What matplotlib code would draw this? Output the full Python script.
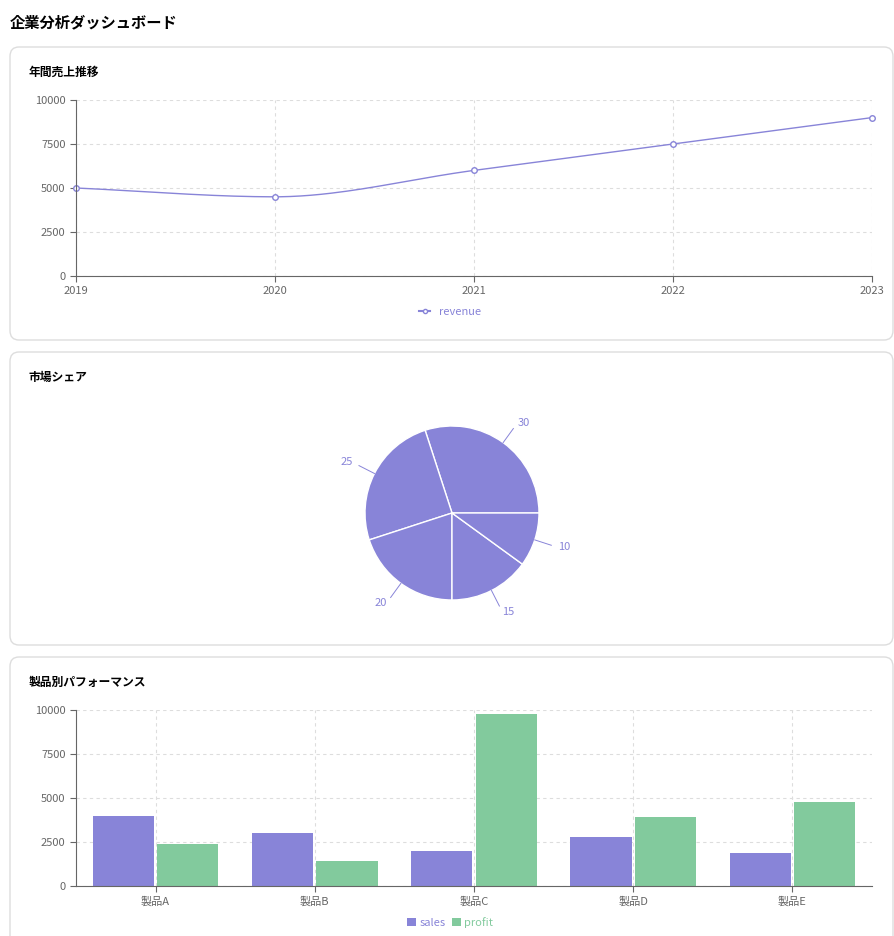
import numpy as np
import matplotlib.pyplot as plt
from matplotlib.patches import FancyBboxPatch

plt.rcParams['font.family'] = ['Noto Sans CJK JP', 'DejaVu Sans']

years = [2019, 2020, 2021, 2022, 2023]
revenue = [5000, 4500, 6000, 7500, 9000]
share_values = [30, 25, 20, 15, 10]
products = ['製品A', '製品B', '製品C', '製品D', '製品E']
sales = [4000, 3000, 2000, 2780, 1890]
profit = [2400, 1398, 9800, 3908, 4800]

PURPLE = '#8884d8'
GREEN = '#82ca9d'
GREY = '#666666'
W, H = 894, 936

fig = plt.figure(figsize=(W / 100, H / 100), dpi=100)
fig.patch.set_facecolor('white')


def ax_px(l, t, r, b):
    return fig.add_axes([l / W, 1 - b / H, (r - l) / W, (b - t) / H])


def card(t, b, title):
    p = FancyBboxPatch((10 / W, 1 - b / H), 883 / W, (b - t) / H,
                       boxstyle='round,pad=0,rounding_size=0.01',
                       transform=fig.transFigure, facecolor='white',
                       edgecolor='#dddddd', linewidth=1, zorder=-5)
    fig.patches.append(p)
    fig.text(29 / W, 1 - (t + 25) / H, title, fontsize=8.5, weight='bold',
             va='center', ha='left')


def style_axes(ax):
    for s in ['top', 'right']:
        ax.spines[s].set_visible(False)
    for s in ['left', 'bottom']:
        ax.spines[s].set_color(GREY)
    ax.tick_params(colors=GREY, labelsize=8, length=4)
    ax.grid(True, linestyle=(0, (3, 3)), color='#dddddd', linewidth=0.8)
    ax.set_axisbelow(True)
    ax.set_ylim(0, 10000)
    ax.set_yticks([0, 2500, 5000, 7500, 10000])
    ax.patch.set_alpha(0)


fig.text(10 / W, 1 - 22 / H, '企業分析ダッシュボード', fontsize=11, weight='bold',
         va='center', ha='left')

card(47, 340, '年間売上推移')
card(352, 645, '市場シェア')
card(657, 960, '製品別パフォーマンス')

# line chart
ax1 = ax_px(76, 100, 872, 276)
style_axes(ax1)
x = np.array(years, float)
y = np.array(revenue, float)
# monotone cubic rendering of the line
d = np.diff(y) / np.diff(x)
m = np.zeros_like(y)
m[0], m[-1] = d[0], d[-1]
for i in range(1, len(y) - 1):
    m[i] = 0 if d[i - 1] * d[i] <= 0 else 2 / (1 / d[i - 1] + 1 / d[i])
xs, ys = [], []
for i in range(len(x) - 1):
    t = np.linspace(0, 1, 40)
    h = x[i + 1] - x[i]
    h00 = 2 * t**3 - 3 * t**2 + 1
    h10 = t**3 - 2 * t**2 + t
    h01 = -2 * t**3 + 3 * t**2
    h11 = t**3 - t**2
    xs.extend(x[i] + t * h)
    ys.extend(h00 * y[i] + h10 * h * m[i] + h01 * y[i + 1] + h11 * h * m[i + 1])
ax1.plot(xs, ys, color=PURPLE, linewidth=1)
ax1.plot(x, y, 'o', color=PURPLE, markerfacecolor='white', markersize=4, clip_on=False)
ax1.set_xlim(2019, 2023)
ax1.set_xticks(years)
ax1.plot([], [], '-o', color=PURPLE, markerfacecolor='white', markersize=3, label='revenue')
ax1.legend(handles=ax1.lines[-1:], loc='upper center', bbox_to_anchor=(0.47, -0.12),
           frameon=False, fontsize=8, labelcolor=PURPLE, handlelength=1)

# pie chart
r = 87
axp = ax_px(452 - r, 513 - r, 452 + r, 513 + r)
wedges, _ = axp.pie(share_values, startangle=0, counterclock=True, colors=[PURPLE],
                    wedgeprops=dict(edgecolor='white', linewidth=1), radius=1)
for w, v in zip(wedges, share_values):
    a = np.deg2rad((w.theta1 + w.theta2) / 2)
    ca, sa = np.cos(a), np.sin(a)
    axp.plot([ca, 1.2 * ca], [sa, 1.2 * sa], color=PURPLE, linewidth=0.7, clip_on=False)
    axp.text(1.28 * ca, 1.28 * sa, str(v), color=PURPLE, fontsize=8,
             ha='left' if ca > 0 else 'right', va='center')
axp.set_xlim(-1, 1)
axp.set_ylim(-1, 1)

# bar chart
ax3 = ax_px(76, 710, 872, 886)
style_axes(ax3)
pos = np.arange(len(products))
bw = 0.385
ax3.bar(pos - bw / 2 - 0.01, sales, bw, color=PURPLE, label='sales')
ax3.bar(pos + bw / 2 + 0.01, profit, bw, color=GREEN, label='profit')
ax3.set_xlim(-0.5, 4.5)
ax3.set_xticks(pos)
ax3.set_xticklabels(products)
leg = ax3.legend(loc='upper center', bbox_to_anchor=(0.47, -0.12), ncol=2, frameon=False,
                 fontsize=8, handlelength=0.8, handleheight=0.8, columnspacing=0.6,
                 handletextpad=0.3)
for t, c in zip(leg.get_texts(), [PURPLE, GREEN]):
    t.set_color(c)

fig.savefig('out.png', dpi=100)
